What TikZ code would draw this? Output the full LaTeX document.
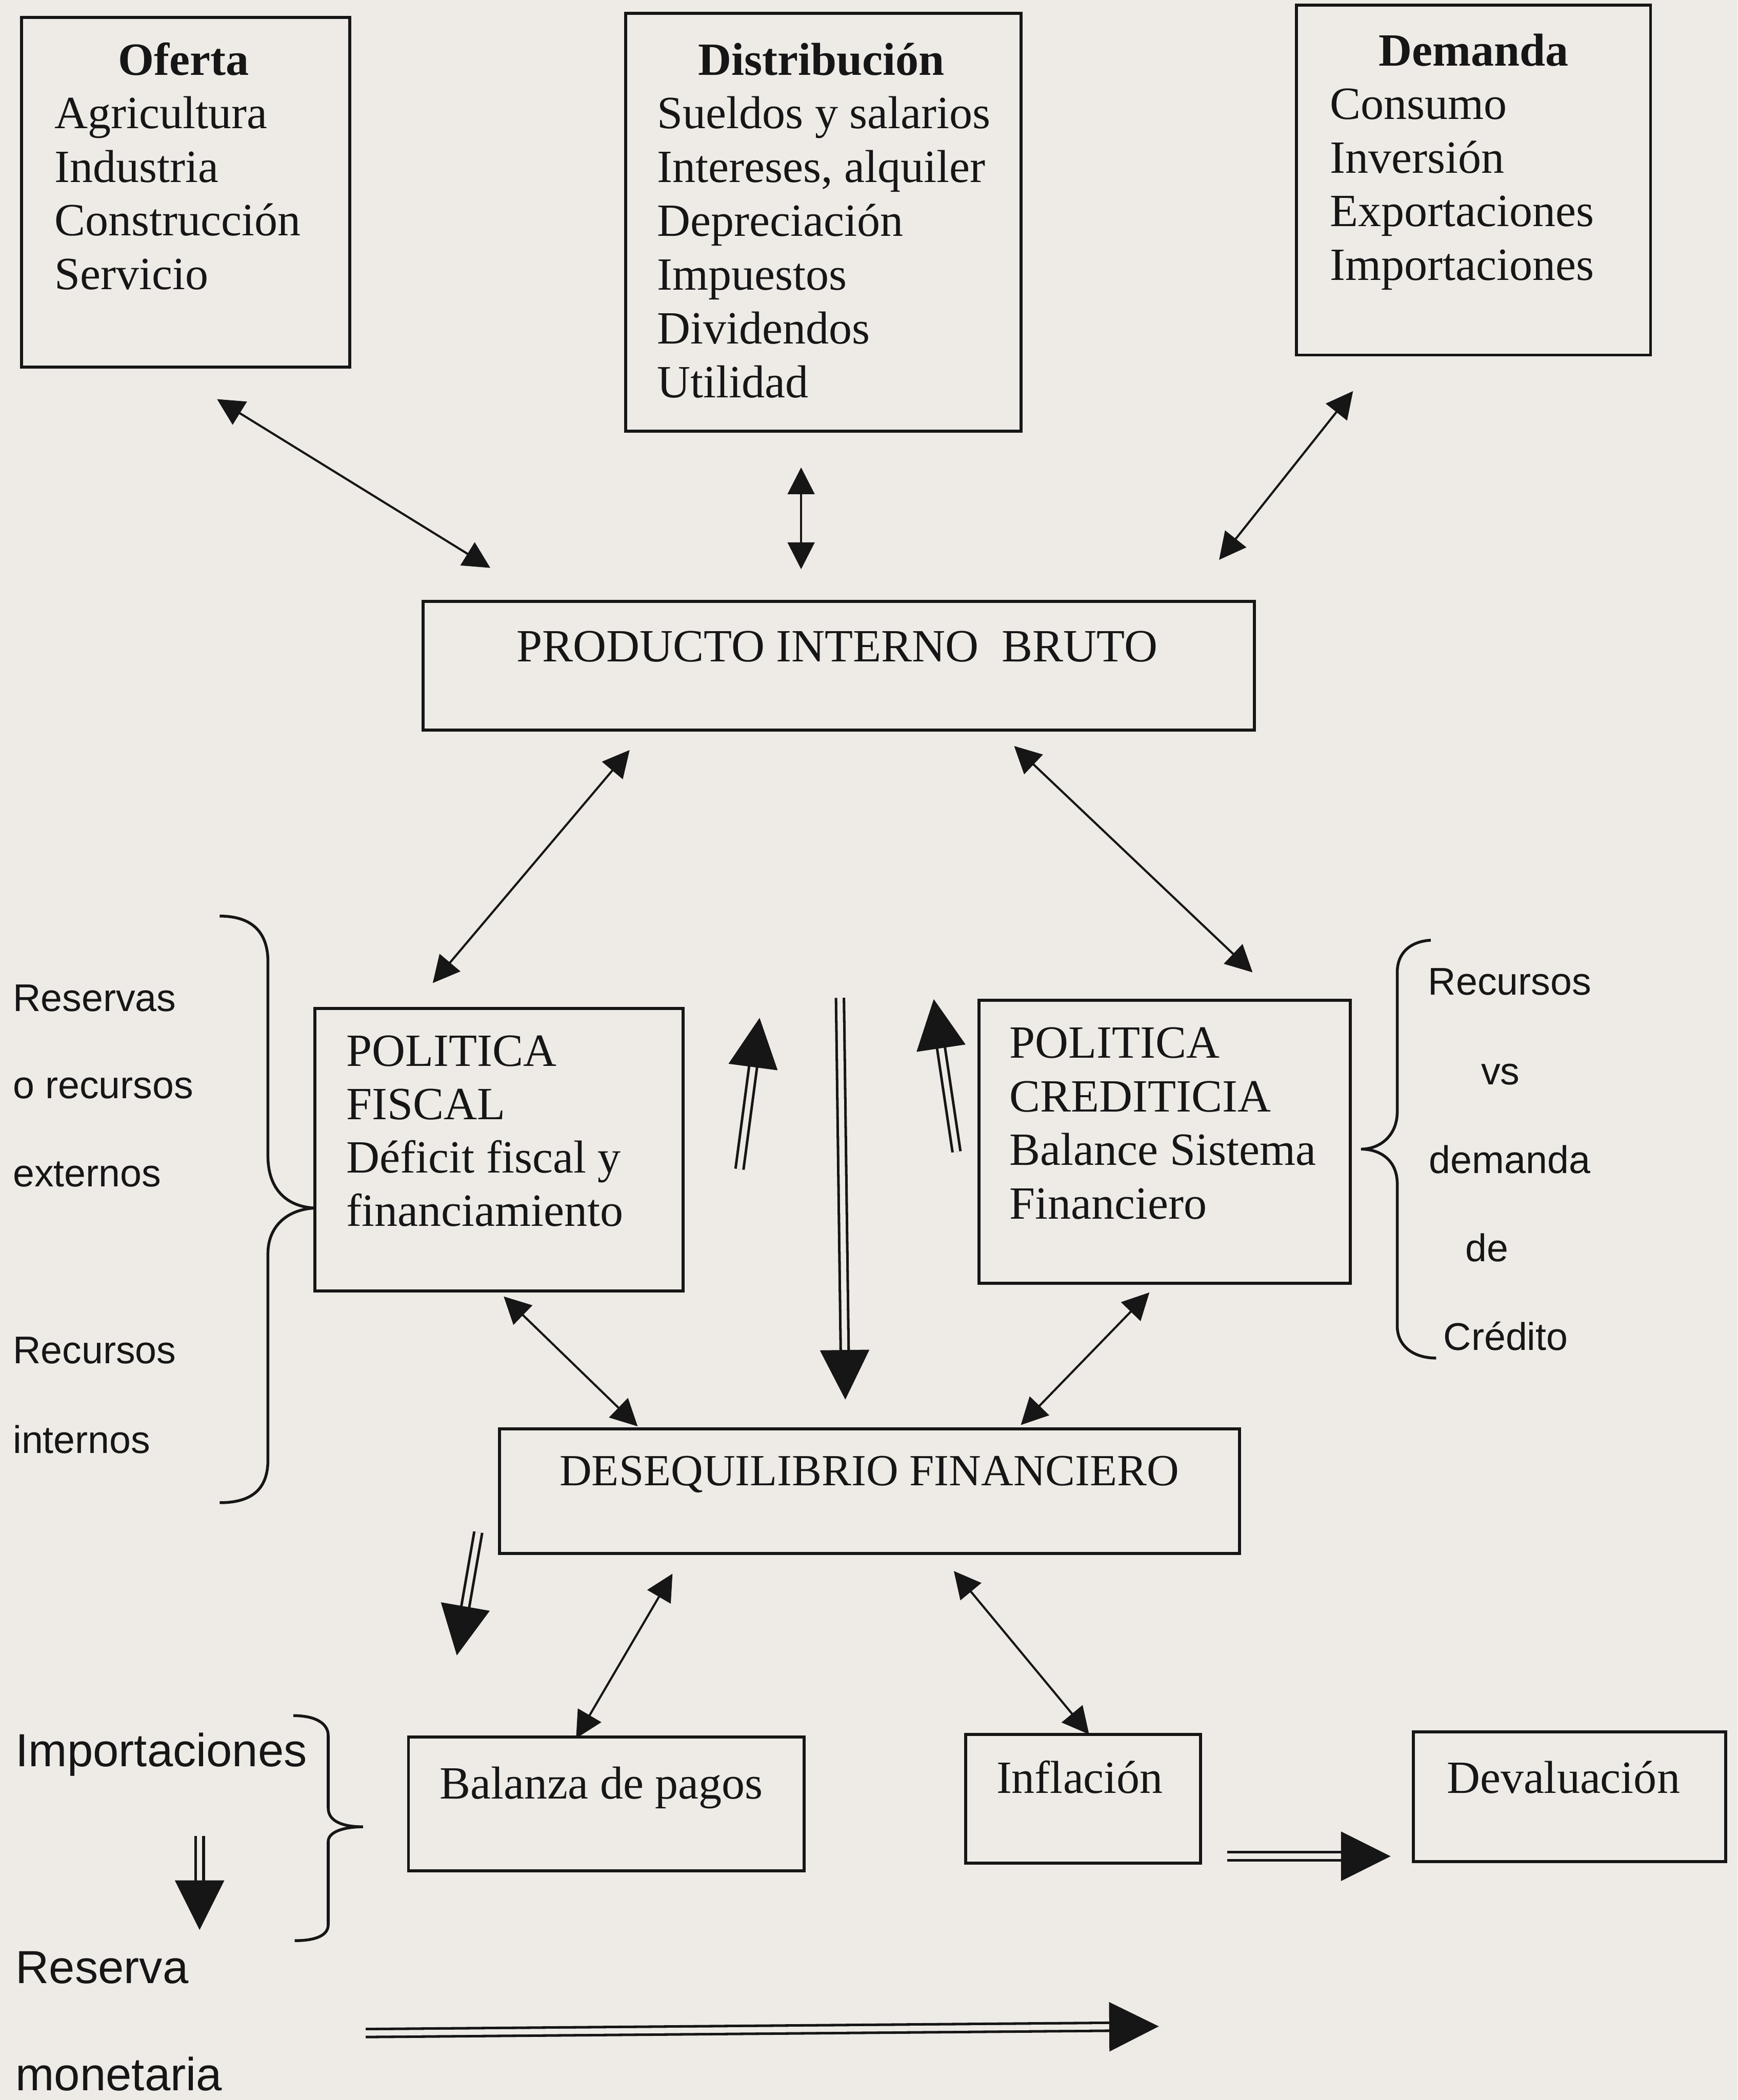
\documentclass[tikz,border=0pt]{standalone}
\usepackage{fontspec}
\setmainfont{Liberation Serif}
\newfontfamily\arialfont{Liberation Sans}
\usetikzlibrary{arrows.meta,calc}
\definecolor{paper}{HTML}{EEEBE7}
\definecolor{ink}{HTML}{161616}
\newcommand\dblarrow[2]{%
  \draw[shaft] (#1) -- ($(#2)!0.33cm!(#1)$);
  \fill[ink] (#2) -- ($(#2)!0.37cm!(#1)!0.185cm!90:(#1)$) -- ($(#2)!0.37cm!(#1)!0.185cm!-90:(#1)$) -- cycle;
}
\begin{document}
\begin{tikzpicture}[x=0.01cm,y=-0.01cm,
  rbox/.style={draw=ink, line width=0.65pt, inner sep=0pt, outer sep=0pt},
  serif/.style={text=ink, font=\fontsize{9.8}{11.4}\selectfont, inner sep=0pt},
  headtxt/.style={text=ink, font=\fontsize{9.8}{11.4}\selectfont\bfseries, inner sep=0pt},
  sanstxt/.style={text=ink, font=\arialfont\fontsize{8.2}{10}\selectfont, inner sep=0pt},
  sansbig/.style={text=ink, font=\arialfont\fontsize{9.85}{12}\selectfont, inner sep=0pt},
  thinlink/.style={draw=ink, line width=0.45pt, {Triangle[length=0.2cm,width=0.2cm]}-{Triangle[length=0.2cm,width=0.2cm]}},
  shaft/.style={draw=ink, line width=0.55pt, double=paper, double distance=0.4mm},
  bracestyle/.style={draw=ink, line width=0.6pt},
]
\fill[paper] (0,0) rectangle (1297,1568);
\useasboundingbox (0,0) rectangle (1297,1568);

% ---------- boxes ----------
\node[rbox, minimum width=2.45cm, minimum height=2.61cm] (oferta) at (138.5,143.5) {};
\node[rbox, minimum width=2.95cm, minimum height=3.12cm] (distrib) at (614.5,166) {};
\node[rbox, minimum width=2.64cm, minimum height=2.61cm] (demanda) at (1100,134.5) {};
\node[rbox, minimum width=6.20cm, minimum height=0.96cm] (pib) at (626,497) {};
\node[rbox, minimum width=2.75cm, minimum height=2.11cm] (fiscal) at (372.5,858.5) {};
\node[rbox, minimum width=2.77cm, minimum height=2.11cm] (credit) at (869.5,852.5) {};
\node[rbox, minimum width=5.52cm, minimum height=0.93cm] (deseq) at (649,1113.5) {};
\node[rbox, minimum width=2.95cm, minimum height=1.00cm] (balanza) at (452.5,1347) {};
\node[rbox, minimum width=1.75cm, minimum height=0.96cm] (inflacion) at (808.5,1343) {};
\node[rbox, minimum width=2.33cm, minimum height=0.97cm] (devalua) at (1171.5,1341.5) {};

% ---------- box texts ----------
\node[headtxt, anchor=base] (ofh) at (137,56) {Oferta};
\foreach \t [count=\i from 0] in {Agricultura, Industria, Construcción, Servicio}
  \node[serif, anchor=base west] (of\i) at (40,{96+40*\i}) {\t};

\node[headtxt, anchor=base] (dih) at (613,56) {Distribución};
\foreach \t [count=\i from 0] in {Sueldos y salarios, {Intereses, alquiler}, Depreciación, Impuestos, Dividendos, Utilidad}
  \node[serif, anchor=base west] (di\i) at (490,{96+40.2*\i}) {\t};

\node[headtxt, anchor=base] (deh) at (1100,49) {Demanda};
\foreach \t [count=\i from 0] in {Consumo, Inversión, Exportaciones, Importaciones}
  \node[serif, anchor=base west] (de\i) at (992,{89+40*\i}) {\t};

\node[serif, anchor=base] (pibt) at (625,494) {PRODUCTO INTERNO~ BRUTO};

\foreach \t [count=\i from 0] in {POLITICA, FISCAL, Déficit fiscal y, financiamiento}
  \node[serif, anchor=base west] (fi\i) at (258,{796+39.8*\i}) {\t};

\foreach \t [count=\i from 0] in {POLITICA, CREDITICIA, Balance Sistema, Financiero}
  \node[serif, anchor=base west] (cr\i) at (753,{790+40*\i}) {\t};

\node[serif, font=\fontsize{9.45}{11.4}\selectfont, anchor=base] (deseqt) at (649,1109) {DESEQUILIBRIO FINANCIERO};
\node[serif, anchor=base] (balanzat) at (449,1343) {Balanza de pagos};
\node[serif, anchor=base] (inflaciont) at (806,1339) {Inflación};
\node[serif, anchor=base] (devaluat) at (1167,1339) {Devaluación};

% ---------- side texts ----------
\node[sanstxt, anchor=base west] (l1) at (9,755) {Reservas};
\node[sanstxt, anchor=base west] (l2) at (9,820) {o recursos};
\node[sanstxt, anchor=base west] (l3) at (9,886) {externos};
\node[sanstxt, anchor=base west] (l4) at (9,1018) {Recursos};
\node[sanstxt, anchor=base west] (l5) at (9,1085) {internos};

\node[sanstxt, anchor=base] (r1) at (1127,743) {Recursos};
\node[sanstxt, anchor=base] (r2) at (1120,810) {vs};
\node[sanstxt, anchor=base] (r3) at (1127,876) {demanda};
\node[sanstxt, anchor=base] (r4) at (1110,942) {de};
\node[sanstxt, anchor=base] (r5) at (1124,1008) {Crédito};

\node[sansbig, anchor=base west] (imp) at (11,1319) {Importaciones};
\node[sansbig, anchor=base west] (res) at (11,1481) {Reserva};
\node[sansbig, anchor=base west] (mon) at (11,1561) {monetaria};

% ---------- braces ----------
\draw[bracestyle] (164,684) .. controls (190,684) and (200,698) .. (200,718) -- (200,863)
  .. controls (200,888) and (214,901) .. (235,902)
  .. controls (214,903) and (200,916) .. (200,936) -- (200,1090)
  .. controls (200,1110) and (190,1122) .. (164,1122);
\draw[bracestyle] (1068,702) .. controls (1052,703) and (1043,712) .. (1043,726) -- (1043,830)
  .. controls (1043,848) and (1030,858) .. (1016,858)
  .. controls (1030,858) and (1043,866) .. (1043,884) -- (1043,990)
  .. controls (1043,1005) and (1055,1014) .. (1072,1014);
\draw[bracestyle] (219,1281) .. controls (236,1281) and (245,1287) .. (245,1296) -- (245,1350)
  .. controls (245,1360) and (256,1364) .. (271,1364)
  .. controls (256,1364) and (245,1368) .. (245,1375) -- (245,1437)
  .. controls (245,1445) and (236,1449) .. (220,1449);

% ---------- thin double-headed links ----------
\coordinate (a1s) at (162,298);  \coordinate (a1e) at (366,424);
\coordinate (a2s) at (598,349);  \coordinate (a2e) at (598,425);
\coordinate (a3s) at (1010,292); \coordinate (a3e) at (910,418);
\coordinate (a4s) at (470,560);  \coordinate (a4e) at (323,734);
\coordinate (a5s) at (757,557);  \coordinate (a5e) at (935,726);
\coordinate (a6s) at (376,968);  \coordinate (a6e) at (476,1065);
\coordinate (a7s) at (858,965);  \coordinate (a7e) at (762,1064);
\coordinate (a8s) at (502,1175); \coordinate (a8e) at (430,1298);
\coordinate (a9s) at (712,1173); \coordinate (a9e) at (813,1295);
\foreach \k in {1,...,9} \draw[thinlink] (a\k s) -- (a\k e);

% ---------- double-line arrows ----------
\coordinate (d1s) at (552,873);  \coordinate (d1e) at (567,760);
\coordinate (d2s) at (627,745);  \coordinate (d2e) at (631,1045);
\coordinate (d3s) at (714,860);  \coordinate (d3e) at (697,746);
\coordinate (d4s) at (357,1144); \coordinate (d4e) at (341,1236);
\coordinate (d5s) at (149,1371); \coordinate (d5e) at (149,1441);
\coordinate (d6s) at (273,1518); \coordinate (d6e) at (865,1513);
\coordinate (d7s) at (916,1386); \coordinate (d7e) at (1038,1386);
\dblarrow{d1s}{d1e}
\dblarrow{d2s}{d2e}
\dblarrow{d3s}{d3e}
\dblarrow{d4s}{d4e}
\dblarrow{d5s}{d5e}
\dblarrow{d6s}{d6e}
\dblarrow{d7s}{d7e}
\end{tikzpicture}
\end{document}
